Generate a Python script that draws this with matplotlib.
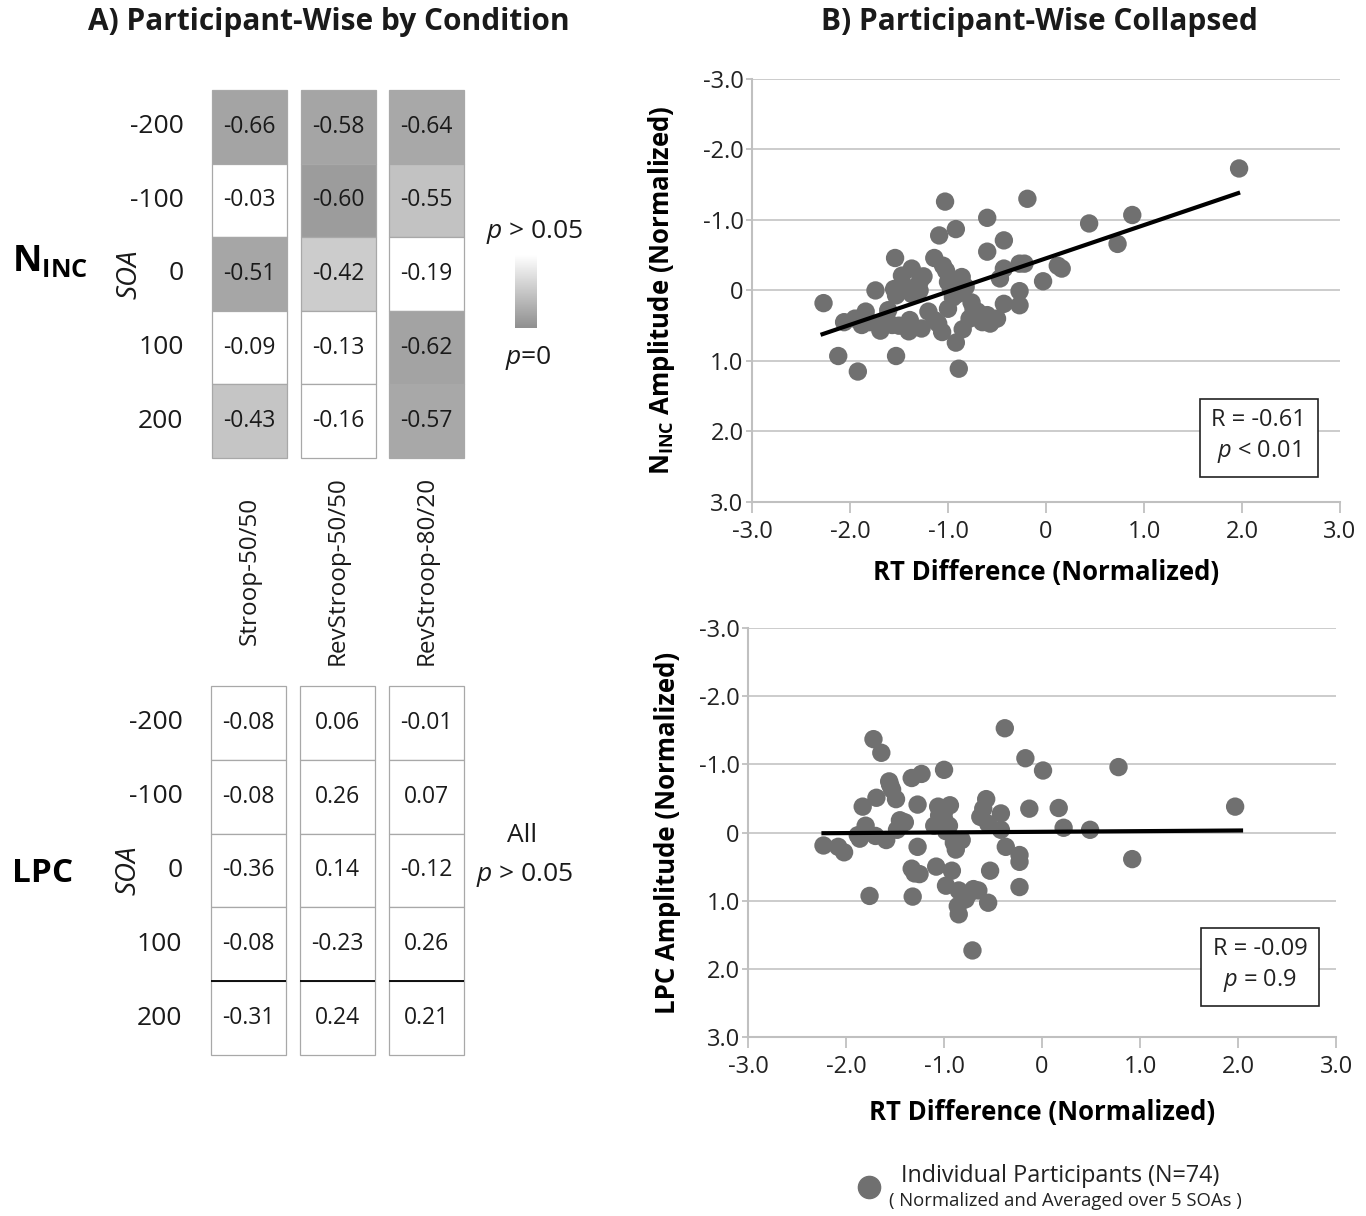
import numpy as np
import matplotlib
matplotlib.use('Agg')
import matplotlib.pyplot as plt
from matplotlib.colors import LinearSegmentedColormap
from matplotlib.patches import Rectangle
from matplotlib.lines import Line2D

plt.rcParams['font.family'] = ['Open Sans', 'DejaVu Sans']
plt.rcParams['mathtext.fontset'] = 'custom'
plt.rcParams['mathtext.rm'] = 'Open Sans'
plt.rcParams['mathtext.it'] = 'Open Sans:italic'
plt.rcParams['mathtext.bf'] = 'Open Sans:bold'
plt.rcParams['axes.unicode_minus'] = False

# ---- Panel A data ----
CONDITIONS = ["Stroop-50/50", "RevStroop-50/50", "RevStroop-80/20"]
SOA_LABELS = ["-200", "-100", "0", "100", "200"]

# correlation values, one list per condition (rows = SOA)
ninc_r = [[-0.66, -0.03, -0.51, -0.09, -0.43],
          [-0.58, -0.60, -0.42, -0.13, -0.16],
          [-0.64, -0.55, -0.19, -0.62, -0.57]]
# estimated p values (only used for the grey shading, > 0.05 is white)
ninc_p = [[0.009, 0.2, 0.010, 0.2, 0.024],
          [0.0095, 0.0055, 0.027, 0.2, 0.2],
          [0.011, 0.0225, 0.2, 0.0086, 0.011]]

lpc_r = [[-0.08, -0.08, -0.36, -0.08, -0.31],
         [0.06, 0.26, 0.14, -0.23, 0.24],
         [-0.01, 0.07, -0.12, 0.26, 0.21]]

# ---- Panel B data ----
ninc_x = [1.97, -1.03, -0.19, -0.60, 0.88, 0.44, -0.92, -1.09, -0.43, 0.73,
          -0.60, -1.54, -1.14, -1.37, -1.47, -1.29, -1.02, -0.86, -1.00, -0.43,
          -0.27, -0.22, 0.16, 0.12, -0.47, -0.03, -0.27, -1.74, -1.55, -1.53,
          -1.29, -0.90, -0.76, -0.43, -0.27, -2.27, -1.00, -1.61, -1.84, -0.70,
          -2.06, -1.88, -1.69, -1.57, -1.39, -1.27, -1.10, -1.06, -0.78, -0.65,
          -0.57, -0.92, -2.12, -1.53, -1.92, -0.89, -0.97, -0.74, -1.14, -1.63,
          -1.45, -1.37, -0.95, -1.20, -0.60, -1.80, -0.82, -1.05, -1.50, -0.50,
          -1.25, -0.85, -1.95, -1.40]
ninc_y = [-1.73, -1.26, -1.30, -1.03, -1.07, -0.95, -0.87, -0.78, -0.71, -0.66,
          -0.55, -0.46, -0.46, -0.31, -0.21, -0.12, -0.28, -0.19, -0.12, -0.31,
          -0.38, -0.38, -0.31, -0.35, -0.17, -0.13, 0.01, 0.00, -0.02, 0.07,
          0.00, 0.05, 0.17, 0.19, 0.21, 0.18, 0.26, 0.28, 0.30, 0.30,
          0.45, 0.49, 0.57, 0.49, 0.42, 0.54, 0.47, 0.59, 0.40, 0.45,
          0.47, 0.74, 0.93, 0.93, 1.15, 1.11, -0.01, 0.26, 0.42, 0.40,
          -0.07, 0.05, 0.10, 0.30, 0.35, 0.45, -0.05, -0.35, 0.50, 0.40,
          -0.20, 0.55, 0.40, 0.58]

lpc_x = [-0.38, -1.72, -1.64, -0.17, 0.01, 0.78, -1.00, -1.23, -1.33, -1.56,
         -1.53, -1.69, -1.49, -1.83, -1.27, -1.06, -0.94, -0.57, -0.13, 0.17,
         -0.42, -0.63, -1.45, -1.00, -0.55, -1.80, -1.10, 0.22, 0.49, -1.48,
         -0.42, -1.88, -0.98, -1.59, -1.86, -0.82, -2.23, -2.08, -2.02, -1.27,
         -0.37, -0.88, -0.23, -0.23, 0.92, -1.33, -1.25, -1.08, -0.92, -0.53,
         -0.98, -0.85, -0.70, -0.78, -0.86, -0.55, -0.23, -0.85, -1.76, -1.32,
         -0.71, 1.97, -1.55, -1.00, -0.95, -0.60, -1.40, -0.80, -0.75, -0.65,
         -1.30, -1.70, -0.90, -1.05]
lpc_y = [-1.53, -1.37, -1.17, -1.09, -0.91, -0.96, -0.92, -0.86, -0.80, -0.75,
         -0.63, -0.51, -0.49, -0.38, -0.41, -0.38, -0.40, -0.49, -0.35, -0.36,
         -0.28, -0.23, -0.18, -0.20, -0.13, -0.10, -0.10, -0.07, -0.04, -0.04,
         -0.04, 0.04, -0.02, 0.11, 0.09, 0.11, 0.19, 0.21, 0.29, 0.21,
         0.21, 0.25, 0.33, 0.43, 0.39, 0.53, 0.61, 0.50, 0.56, 0.56,
         0.78, 0.85, 0.83, 0.98, 1.08, 1.03, 0.80, 1.20, 0.93, 0.94,
         1.73, -0.38, -0.70, -0.30, -0.10, -0.35, -0.15, 0.95, 0.90, 0.85,
         0.60, 0.05, 0.15, -0.25]

# fitted regression lines (end points)
ninc_fit_x = [-2.28, 1.96]
ninc_fit_y = [0.62, -1.38]
lpc_fit_x = [-2.23, 2.03]
lpc_fit_y = [0.01, -0.03]

TICKS = [-3.0, -2.0, -1.0, 0.0, 1.0, 2.0, 3.0]

fig = plt.figure(figsize=(13.66, 12.16), dpi=100)

grey_cmap = LinearSegmentedColormap.from_list('pgrey', ['#909090', '#ffffff'])
COL_PITCH = 1.18
EDGE = '#a8a8a8'
TXT = '#1a1a1a'


def draw_table(ax, values, pvals=None):
    """Draw three separate columns of five cells"""
    for c in range(len(values)):
        x0 = c * COL_PITCH
        for r, v in enumerate(values[c]):
            if pvals is None:
                face = 'white'
            else:
                face = grey_cmap(min(pvals[c][r] / 0.05, 1.0))
            ax.add_patch(Rectangle((x0, r), 1, 1, facecolor=face,
                                   edgecolor=EDGE, linewidth=0.9,
                                   clip_on=False))
            ax.text(x0 + 0.5, r + 0.5, f'{v:.2f}', ha='center', va='center',
                    fontsize=16.5, color=TXT)
    for r, lab in enumerate(SOA_LABELS):
        ax.text(-0.38, r + 0.5, lab, ha='right', va='center', fontsize=19,
                color=TXT)
    ax.text(-1.1, 2.5, 'SOA', rotation=90, ha='center', va='center',
            fontsize=20, style='italic', color=TXT)
    ax.set_xlim(0, COL_PITCH * 2 + 1)
    ax.set_ylim(len(SOA_LABELS), 0)
    ax.axis('off')


# ---- Panel A ----
ax_t = fig.add_axes([0.1552, 0.6234, 0.1845, 0.3026])
draw_table(ax_t, ninc_r, ninc_p)
for c, name in enumerate(CONDITIONS):
    ax_t.text(c * COL_PITCH + 0.5, 6.53, name, rotation=90, ha='center',
              va='center', fontsize=17.5, color=TXT, clip_on=False)

ax_l = fig.add_axes([0.1545, 0.1324, 0.1852, 0.3035])
draw_table(ax_l, lpc_r)
for c in range(len(CONDITIONS)):
    ax_l.plot([c * COL_PITCH, c * COL_PITCH + 1], [4, 4], color='black',
              lw=1.3, solid_capstyle='butt')

# p-value colour scale
ax_cb = fig.add_axes([0.377, 0.7303, 0.0161, 0.060])
ax_cb.imshow(np.linspace(1, 0, 100).reshape(-1, 1), cmap=grey_cmap,
             aspect='auto', extent=[0, 1, 0, 1])
ax_cb.axis('off')
fig.text(0.3917, 0.8092, r'$\it{p}$ > 0.05', ha='center', va='center',
         fontsize=19, color=TXT)
fig.text(0.3865, 0.7056, r'$\it{p}$=0', ha='center', va='center',
         fontsize=19, color=TXT)
fig.text(0.3821, 0.3125, 'All', ha='center', va='center', fontsize=19,
         color=TXT)
fig.text(0.3843, 0.2804, r'$\it{p}$ > 0.05', ha='center', va='center',
         fontsize=19, color=TXT)

fig.text(0.009, 1 - 262 / 1216, r'N$_{\mathbf{INC}}$', ha='left', va='center',
         fontsize=26, fontweight='bold')
fig.text(0.009, 1 - 873 / 1216, 'LPC', ha='left', va='center', fontsize=24,
         fontweight='bold')

fig.text(0.2408, 0.9819, 'A) Participant-Wise by Condition', ha='center',
         va='center', fontsize=21.5, fontweight='bold', color=TXT)
fig.text(0.7613, 0.9819, 'B) Participant-Wise Collapsed', ha='center',
         va='center', fontsize=21.5, fontweight='bold', color=TXT)


# ---- Panel B ----
def style_scatter(ax):
    ax.set_xlim(-3, 3)
    ax.set_ylim(3, -3)
    ax.set_xticks(TICKS)
    ax.set_yticks(TICKS)
    fmt = lambda v, pos: '0' if v == 0 else f'{v:.1f}'
    ax.xaxis.set_major_formatter(plt.FuncFormatter(fmt))
    ax.yaxis.set_major_formatter(plt.FuncFormatter(fmt))
    ax.grid(axis='y', color='#c8c8c8', lw=1.3)
    ax.set_axisbelow(True)
    for s in ['top', 'right']:
        ax.spines[s].set_visible(False)
    for s in ['left', 'bottom']:
        ax.spines[s].set_color('#c0c0c0')
        ax.spines[s].set_linewidth(1.5)
    ax.tick_params(axis='y', length=4, width=1.3, color='#c0c0c0', pad=2,
                   labelsize=17, labelcolor='#222222')
    ax.tick_params(axis='x', length=8, width=1.3, color='#c0c0c0', pad=5,
                   labelsize=17, labelcolor='#222222')


ax1 = fig.add_axes([0.5505, 0.5872, 0.4305, 0.3479])
style_scatter(ax1)
ax1.scatter(ninc_x, ninc_y, s=175, color='#707070', edgecolors='none',
            zorder=3)
ax1.plot(ninc_fit_x, ninc_fit_y, color='black', lw=3, zorder=4)
ax1.set_xlabel('RT Difference (Normalized)', fontsize=18.5, fontweight='bold')
ax1.set_ylabel(r'N$_{\mathbf{INC}}$ Amplitude (Normalized)', fontsize=18.5,
               fontweight='bold')
ax1.xaxis.set_label_coords(0.5, -0.135)
ax1.yaxis.set_label_coords(-0.128, 0.5)
ax1.text(0.862, 0.154, 'R = -0.61\n' + r'$\it{p}$ < 0.01', transform=ax1.transAxes,
         ha='center', va='center', fontsize=17, linespacing=1.3, color='#222222',
         bbox=dict(boxstyle='square,pad=0.5', facecolor='white',
                   edgecolor='#222222', linewidth=1.2), zorder=5)

ax2 = fig.add_axes([0.5476, 0.1472, 0.4305, 0.3363])
style_scatter(ax2)
ax2.scatter(lpc_x, lpc_y, s=175, color='#707070', edgecolors='none', zorder=3)
ax2.plot(lpc_fit_x, lpc_fit_y, color='black', lw=3, zorder=4)
ax2.set_xlabel('RT Difference (Normalized)', fontsize=18.5, fontweight='bold')
ax2.set_ylabel('LPC Amplitude (Normalized)', fontsize=18.5, fontweight='bold')
ax2.xaxis.set_label_coords(0.5, -0.151)
ax2.yaxis.set_label_coords(-0.114, 0.5)
ax2.text(0.871, 0.174, 'R = -0.09\n' + r'$\it{p}$ = 0.9', transform=ax2.transAxes,
         ha='center', va='center', fontsize=17, linespacing=1.3, color='#222222',
         bbox=dict(boxstyle='square,pad=0.5', facecolor='white',
                   edgecolor='#222222', linewidth=1.2), zorder=5)

# legend
fig.add_artist(Line2D([0.6362], [0.0238], marker='o', markersize=16,
                      color='#707070', linestyle='none',
                      transform=fig.transFigure))
fig.text(0.6596, 0.0329, 'Individual Participants (N=74)', ha='left',
         va='center', fontsize=16.8, color='#222222')
fig.text(0.6508, 0.0123, '( Normalized and Averaged over 5 SOAs )', ha='left',
         va='center', fontsize=13.3, color='#222222')

fig.savefig('out.png', dpi=100)
